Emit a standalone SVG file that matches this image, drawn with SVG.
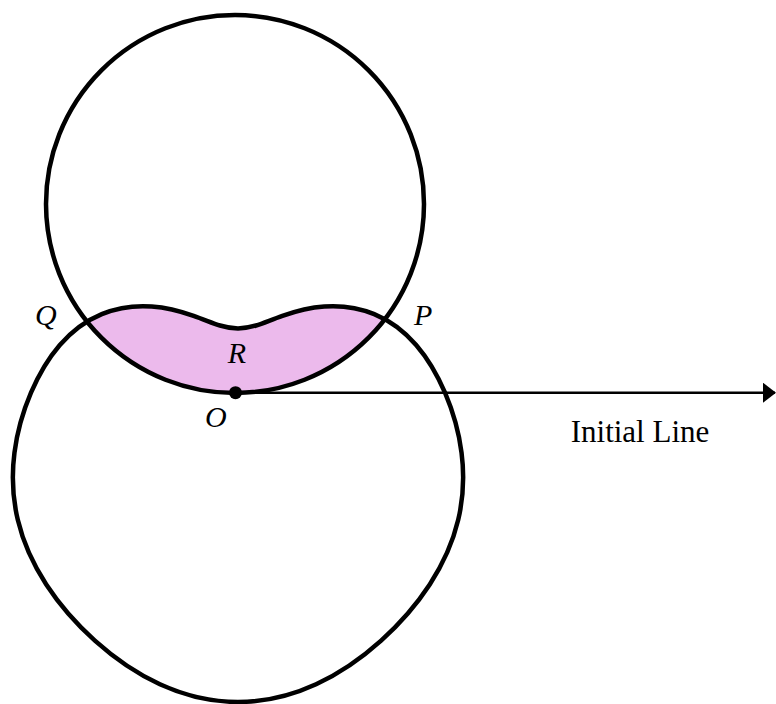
<svg xmlns="http://www.w3.org/2000/svg" width="776" height="704" viewBox="0 0 776 704">
  <style>
    .curve { fill: none; stroke: #000; stroke-width: 4.5; stroke-linejoin: round; }
    .region { fill: #ECBAEC; stroke: none; }
    .lbl { font-family: "Liberation Serif", "Times New Roman", serif; font-style: italic; font-size: 30px; fill: #000; }
    .txt { font-family: "Liberation Serif", "Times New Roman", serif; font-size: 31px; fill: #000; }
    .axis { stroke: #000; stroke-width: 2.5; fill: none; }
  </style>
  <defs>
    <marker id="arrow" markerUnits="userSpaceOnUse" markerWidth="14" markerHeight="22" refX="12" refY="10" orient="auto">
      <path d="M0,0 L13,10 L0,20 Z" fill="#000"/>
    </marker>
    <path id="lc" d="M 237 328.45 C 242.61 328.45, 248.15 327.62, 255 325.52 C 261.85 323.42, 270.13 319.81, 281.39 315.81 C 292.65 311.81, 307.04 307.6, 323.25 306.45 C 339.46 305.3, 357.17 307.46, 373.22 314.05 C 389.27 320.64, 403.47 331.44, 415.15 344.97 C 426.83 358.5, 436.28 374.63, 444 392.7 C 451.72 410.77, 457.74 430.94, 460.53 452.59 C 463.32 474.24, 462.58 497.32, 457.22 519.85 C 451.86 542.38, 441.99 564.22, 428.75 584.45 C 415.51 604.68, 399.09 623.49, 380.11 640.57 C 361.13 657.65, 339.37 673.04, 315.1 684.2 C 290.83 695.36, 263.99 701.95, 237 701.95 C 210.01 701.95, 183.17 695.36, 158.9 684.2 C 134.63 673.04, 112.87 657.65, 93.89 640.57 C 74.91 623.49, 58.49 604.68, 45.25 584.45 C 32.01 564.22, 22.14 542.38, 16.78 519.85 C 11.42 497.32, 10.68 474.24, 13.47 452.59 C 16.26 430.94, 22.28 410.77, 30 392.7 C 37.72 374.63, 47.17 358.5, 58.85 344.97 C 70.53 331.44, 84.73 320.64, 100.78 314.05 C 116.83 307.46, 134.54 305.3, 150.75 306.45 C 166.96 307.6, 181.35 311.81, 192.61 315.81 C 203.87 319.81, 212.15 323.42, 219 325.52 C 225.85 327.62, 231.39 328.45, 237 328.45 Z"/>
    <clipPath id="cc">
      <circle cx="235" cy="204" r="189"/>
    </clipPath>
  </defs>
  <rect width="776" height="704" fill="#fff"/>

  <g id="region-R" clip-path="url(#cc)">
    <use href="#lc" class="region" transform="translate(1,0)"/>
  </g>

  <g id="circle">
    <circle class="curve" cx="235" cy="204" r="189"/>
  </g>

  <g id="lower-curve">
    <use href="#lc" class="curve" transform="translate(1,0)"/>
  </g>

  <g id="connectors">
    <line class="axis" x1="235.5" y1="392.7" x2="775" y2="392.7" marker-end="url(#arrow)"/>
  </g>

  <g id="origin">
    <circle cx="235.5" cy="392.7" r="6.5" fill="#000"/>
  </g>

  <g id="labels">
    <text class="lbl" x="35" y="325">Q</text>
    <text class="lbl" x="414" y="325">P</text>
    <text class="lbl" x="237" y="363" text-anchor="middle">R</text>
    <text class="lbl" x="205" y="427">O</text>
    <text class="txt" x="640" y="441.5" text-anchor="middle">Initial Line</text>
  </g>
</svg>
